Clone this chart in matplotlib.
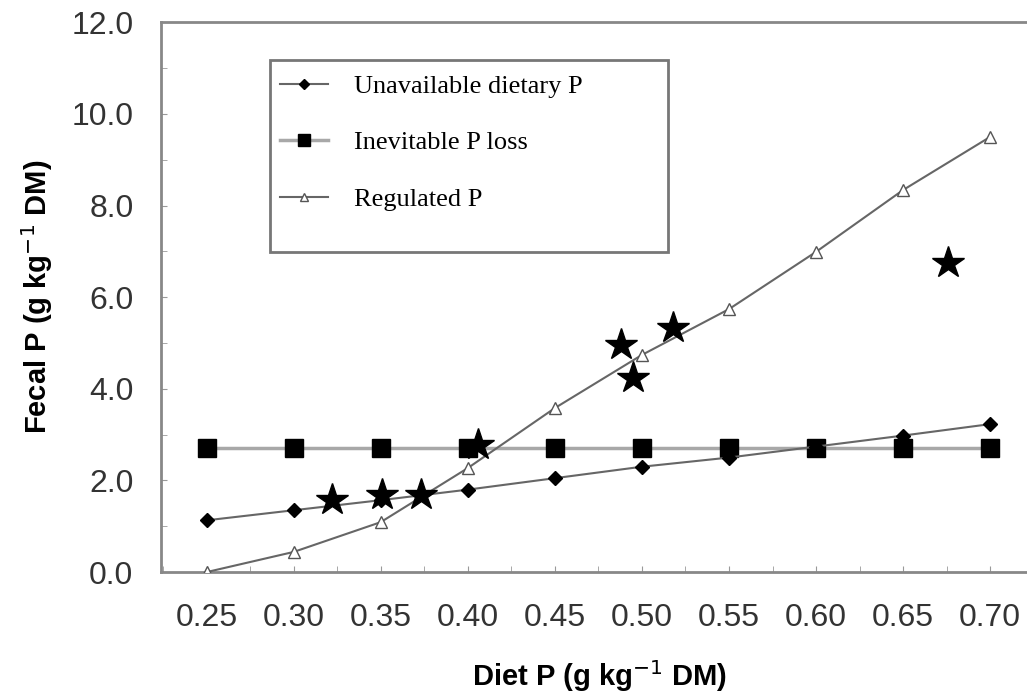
import matplotlib.pyplot as plt
from matplotlib.patches import Rectangle
from matplotlib.ticker import MultipleLocator

# --------------------------------------------
# Data
# --------------------------------------------
diet_p = [0.25, 0.30, 0.35, 0.40, 0.45, 0.50, 0.55, 0.60, 0.65, 0.70]
unavailable = [1.13, 1.35, 1.57, 1.80, 2.05, 2.30, 2.50, 2.74, 2.98, 3.23]
inevitable = [2.70, 2.70, 2.70, 2.70, 2.70, 2.70, 2.70, 2.70, 2.70, 2.70]
regulated = [0.00, 0.44, 1.09, 2.27, 3.58, 4.74, 5.74, 6.99, 8.34, 9.50]

obs_x = [0.322, 0.351, 0.373, 0.406, 0.488, 0.495, 0.518, 0.676]
obs_y = [1.57, 1.68, 1.68, 2.77, 4.95, 4.23, 5.32, 6.74]

x_ticks = [0.25, 0.30, 0.35, 0.40, 0.45, 0.50, 0.55, 0.60, 0.65, 0.70]
y_ticks = [0.0, 2.0, 4.0, 6.0, 8.0, 10.0, 12.0]

# --------------------------------------------
# Plot
# --------------------------------------------
fig = plt.figure(figsize=(10.27, 6.96), dpi=100)
ax = fig.add_axes([0.157, 0.178, 0.853, 0.79])

ax.plot(diet_p, inevitable, color='#a8a8a8', lw=2.5, marker='s', ms=13,
        mfc='black', mec='black', label='Inevitable P loss', zorder=2)
ax.plot(diet_p, unavailable, color='#666666', lw=1.5, marker='D', ms=7,
        mfc='black', mec='black', label='Unavailable dietary P', zorder=3)
ax.plot(diet_p, regulated, color='#666666', lw=1.5, marker='^', ms=9,
        mfc='white', mec='#555555', label='Regulated P', zorder=3)
ax.plot(obs_x, obs_y, ls='none', marker='*', ms=24, color='black', zorder=4)

ax.set_xlim(0.224, 0.727)
ax.set_ylim(0, 12)
ax.set_xticks(x_ticks)
ax.set_xticklabels(['%.2f' % v for v in x_ticks])
ax.set_yticks(y_ticks)
ax.set_yticklabels(['%.1f' % v for v in y_ticks])
ax.xaxis.set_minor_locator(MultipleLocator(0.025))
ax.yaxis.set_minor_locator(MultipleLocator(1.0))

ax.tick_params(which='both', direction='in', length=4, color='#999999',
               labelsize=23, labelcolor='#333333')
ax.tick_params(axis='y', pad=20)
ax.tick_params(axis='x', pad=22)
for s in ax.spines.values():
    s.set_color('#888888')
    s.set_linewidth(2)

ax.set_xlabel('Diet P (g kg$^{-1}$ DM)', fontsize=21, fontweight='bold',
              family='Liberation Sans', labelpad=18)
ax.set_ylabel('Fecal P (g kg$^{-1}$ DM)', fontsize=21, fontweight='bold',
              family='Liberation Sans', labelpad=12)
for lab in ax.get_xticklabels() + ax.get_yticklabels():
    lab.set_family('Liberation Sans')

# legend: text rows without frame, plus a drawn box
handles, labels = ax.get_legend_handles_labels()
order = [1, 0, 2]
leg = ax.legend([handles[i] for i in order], [labels[i] for i in order],
                loc='upper left', bbox_to_anchor=(0.136, 0.905),
                prop={'family': 'Liberation Serif', 'size': 19},
                frameon=False, borderpad=0, labelspacing=1.25,
                handlelength=1.8, handletextpad=1.0, borderaxespad=0)
for h in leg.legend_handles:
    h.set_markersize(h.get_markersize() * 0.7)

box = Rectangle((0.263, 0.638), 0.3875, 0.276, transform=fig.transFigure,
                fill=False, edgecolor='#777777', lw=2, zorder=5)
fig.patches.append(box)

fig.savefig('out.png', dpi=100)
